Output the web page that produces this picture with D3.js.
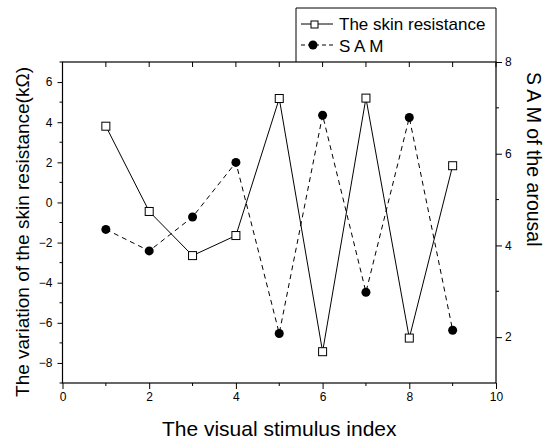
<!DOCTYPE html>
<html>
<head>
<meta charset="utf-8">
<script src="https://cdn.jsdelivr.net/npm/d3@7"></script>
<style>
  body { margin: 0; background: #fff; }
  svg { font-family: "Liberation Sans", Arial, sans-serif; }
</style>
</head>
<body>
<svg id="chart" width="545" height="441"></svg>
<script>
// stimulus index
const stimulus = [1, 2, 3, 4, 5, 6, 7, 8, 9];
// variation of skin resistance (kOhm), left axis
const skinResistance = [3.8, -0.45, -2.65, -1.65, 5.18, -7.44, 5.2, -6.76, 1.83];
// SAM arousal score, right axis
const samArousal = [4.35, 3.88, 4.62, 5.81, 2.08, 6.84, 2.98, 6.79, 2.15];

const xTicks = [0, 2, 4, 6, 8, 10];
const leftTicks = [-8, -6, -4, -2, 0, 2, 4, 6];
const rightTicks = [2, 4, 6, 8];

const svg = d3.select("#chart");

const plotLeft = 62.5, plotRight = 496, plotTop = 62, plotBottom = 383;

const x = d3.scaleLinear().domain([0, 10]).range([plotLeft, plotRight]);
const yL = d3.scaleLinear().domain([-9, 7]).range([plotBottom, plotTop]);
const yR = d3.scaleLinear().domain([1, 8]).range([plotBottom, plotTop]);

// minor ticks
const gMinor = svg.append("g").attr("stroke", "#000").attr("stroke-width", 1);
d3.range(1, 10, 2).forEach(function(v) {
  gMinor.append("line").attr("x1", x(v)).attr("x2", x(v)).attr("y1", plotBottom).attr("y2", plotBottom + 3);
});
d3.range(0, 11).forEach(function(v) {
  gMinor.append("line").attr("x1", x(v)).attr("x2", x(v)).attr("y1", plotTop).attr("y2", plotTop + 5);
});
d3.range(-9, 8, 2).forEach(function(v) {
  gMinor.append("line").attr("x1", plotLeft).attr("x2", plotLeft - 3).attr("y1", yL(v)).attr("y2", yL(v));
});
[3, 5, 7].forEach(function(v) {
  gMinor.append("line").attr("x1", plotRight).attr("x2", plotRight + 3).attr("y1", yR(v)).attr("y2", yR(v));
});

const axisStyle = function(g) {
  g.select(".domain").remove();
  g.selectAll("text").attr("font-size", 12).attr("fill", "#000");
  g.selectAll("line").attr("stroke", "#000");
};

svg.append("g")
  .attr("transform", "translate(0," + plotBottom + ")")
  .call(d3.axisBottom(x).tickValues(xTicks).tickSize(6).tickPadding(3).tickFormat(d3.format("d")))
  .call(axisStyle);

svg.append("g")
  .attr("transform", "translate(" + plotLeft + ",0)")
  .call(d3.axisLeft(yL).tickValues(leftTicks).tickSize(5).tickPadding(5).tickFormat(d3.format("d")))
  .call(axisStyle);

svg.append("g")
  .attr("transform", "translate(" + plotRight + ",0)")
  .call(d3.axisRight(yR).tickValues(rightTicks).tickSize(6).tickPadding(3).tickFormat(d3.format("d")))
  .call(axisStyle);

// frame
svg.append("rect")
  .attr("x", plotLeft).attr("y", plotTop)
  .attr("width", plotRight - plotLeft).attr("height", plotBottom - plotTop)
  .attr("fill", "none").attr("stroke", "#000").attr("stroke-width", 1.2);

// SAM series (dashed, filled circles)
const samLine = d3.line().x(function(d, i) { return x(stimulus[i]); }).y(function(d) { return yR(d); });
svg.append("path")
  .datum(samArousal)
  .attr("d", samLine)
  .attr("fill", "none").attr("stroke", "#000").attr("stroke-width", 1)
  .attr("stroke-dasharray", "5,4");

// skin resistance series (solid, open squares)
const skinLine = d3.line().x(function(d, i) { return x(stimulus[i]); }).y(function(d) { return yL(d); });
svg.append("path")
  .datum(skinResistance)
  .attr("d", skinLine)
  .attr("fill", "none").attr("stroke", "#000").attr("stroke-width", 1);

svg.append("g").selectAll("circle")
  .data(samArousal)
  .enter().append("circle")
  .attr("cx", function(d, i) { return x(stimulus[i]); })
  .attr("cy", function(d) { return yR(d); })
  .attr("r", 4.5)
  .attr("fill", "#000");

svg.append("g").selectAll("rect")
  .data(skinResistance)
  .enter().append("rect")
  .attr("x", function(d, i) { return x(stimulus[i]) - 4; })
  .attr("y", function(d) { return yL(d) - 4; })
  .attr("width", 8).attr("height", 8)
  .attr("fill", "#fff").attr("stroke", "#000").attr("stroke-width", 1);

// axis titles
svg.append("text")
  .attr("x", x(5)).attr("y", 436)
  .attr("text-anchor", "middle").attr("font-size", 21)
  .text("The visual stimulus index");

svg.append("text")
  .attr("transform", "translate(29," + 232 + ") rotate(-90)")
  .attr("text-anchor", "middle").attr("font-size", 19)
  .text("The variation of the skin resistance(kΩ)");

svg.append("text")
  .attr("transform", "translate(527,72) rotate(90)")
  .attr("text-anchor", "start").attr("font-size", 19.5)
  .text("S A M of the arousal");

// legend
const legend = svg.append("g");
legend.append("path")
  .attr("d", "M296," + plotTop + "V8H496V" + plotTop)
  .attr("fill", "none").attr("stroke", "#000").attr("stroke-width", 1);

legend.append("line").attr("x1", 301).attr("x2", 333).attr("y1", 24).attr("y2", 24)
  .attr("stroke", "#000");
legend.append("rect").attr("x", 311).attr("y", 21).attr("width", 7).attr("height", 7)
  .attr("fill", "#fff").attr("stroke", "#000");
legend.append("text").attr("x", 339).attr("y", 30).attr("font-size", 17)
  .text("The skin resistance");

legend.append("line").attr("x1", 301).attr("x2", 333).attr("y1", 45).attr("y2", 45)
  .attr("stroke", "#000").attr("stroke-dasharray", "4,3");
legend.append("circle").attr("cx", 313).attr("cy", 45).attr("r", 4.5).attr("fill", "#000");
legend.append("text").attr("x", 339).attr("y", 51.5).attr("font-size", 17)
  .text("S A M");
</script>
</body>
</html>
